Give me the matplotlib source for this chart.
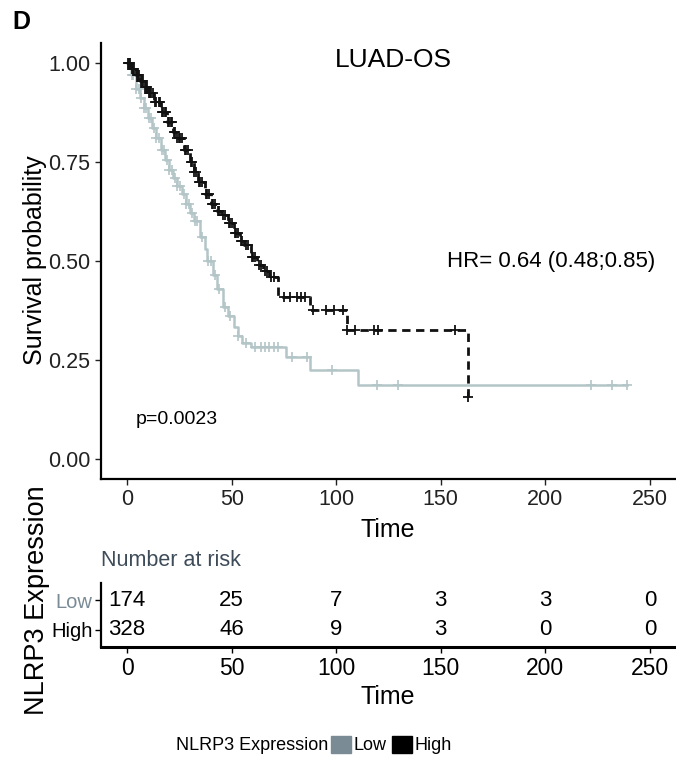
import numpy as np
import matplotlib.pyplot as plt
from matplotlib.patches import Patch

plt.rcParams['font.family'] = ['Liberation Sans', 'DejaVu Sans']
NARROW = ['Liberation Sans Narrow', 'Liberation Sans', 'DejaVu Sans']

##---------- data
# High expression (black, dashed) - step times / survival
high_t = [0, 2, 4, 6, 8, 10, 13, 16, 19, 22, 24, 27, 30, 32, 34, 37, 40, 43,
          45, 48, 51, 54, 56, 59, 62, 65, 68, 72, 86, 87.5, 105, 163]
high_s = [1.0, 0.985, 0.97, 0.955, 0.94, 0.925, 0.90, 0.875, 0.85, 0.825, 0.81,
          0.78, 0.75, 0.725, 0.70, 0.67, 0.645, 0.625, 0.615, 0.595, 0.57, 0.55,
          0.54, 0.51, 0.49, 0.475, 0.46, 0.41, 0.41, 0.376, 0.326, 0.157]
high_cens = [0.5, 1, 1.5, 2.5, 3, 3.5, 4.5, 5, 5.5, 6.5, 7, 7.5, 8.5, 9, 9.5,
             10.5, 11, 11.5, 12.5, 13.5, 14, 15, 15.5, 16.5, 17, 18, 18.5, 19.5,
             20, 21, 21.5, 22.5, 23, 24, 25, 25.5, 26, 27.5, 28, 29, 30.5, 31,
             32, 33, 34.5, 35, 36, 37.5, 38, 39, 40.5, 41, 42, 43.5, 44, 46,
             47, 48.5, 49, 50, 51.5, 52, 53, 54.5, 55, 57, 58, 59.5, 60, 61, 63,
             64, 66, 67, 69, 70, 75, 78, 81, 83, 85, 89, 95, 99, 103, 105, 109,
             118, 120, 157, 163]

# Low expression (light grey, solid)
low_t = [0, 2, 4, 6, 8, 10, 12, 14, 16, 18, 20, 22, 24, 26, 28, 30, 32, 35, 37,
         38, 41, 43, 46, 48, 51, 53, 55, 59, 76, 87.5, 110.5, 239]
low_s = [1.0, 0.97, 0.935, 0.91, 0.885, 0.86, 0.835, 0.81, 0.78, 0.755, 0.73,
         0.71, 0.69, 0.67, 0.645, 0.62, 0.60, 0.56, 0.53, 0.50, 0.465, 0.43,
         0.385, 0.36, 0.333, 0.31, 0.293, 0.283, 0.258, 0.225, 0.187, 0.187]
low_cens = [0.5, 1.5, 2.5, 3, 4, 5.5, 6.5, 8, 9, 10.5, 11.5, 13, 14, 15, 16.5,
            17.5, 19, 20, 21.5, 23, 24, 25.5, 27, 28, 29.5, 31, 32.5, 33.5, 36,
            38.5, 40, 42, 44, 47, 49, 53, 57, 61, 64, 66, 68, 70, 72, 79, 86,
            98, 119.5, 129.5, 222, 232, 239]

risk_times = [0, 50, 100, 150, 200, 250]
risk_low = [174, 25, 7, 3, 3, 0]
risk_high = [328, 46, 9, 3, 0, 0]

col_low = '#B3C5C7'
col_low_key = '#7A8B95'
col_high = '#111111'


def surv_at(t_list, s_list, times):
    idx = np.searchsorted(t_list, times, side='right') - 1
    return np.asarray(s_list)[idx]


W, H = 676, 758
fig = plt.figure(figsize=(W / 100, H / 100), dpi=100)

# main survival panel
ax = fig.add_axes([101 / W, 1 - 479 / H, 575 / W, 436 / H])
ax.step(low_t, low_s, where='post', color=col_low, lw=1.8)
ax.plot(low_cens, surv_at(low_t, low_s, low_cens), '+', color=col_low, ms=7, mew=1.2)
ax.step(high_t, high_s, where='post', color=col_high, lw=2, ls=(0, (3, 2)))
ax.plot(high_cens, surv_at(high_t, high_s, high_cens), '+', color=col_high, ms=7, mew=1.3)

ax.set_xlim(-12.5, 262.5)
ax.set_ylim(-0.05, 1.05)
ax.set_xticks(risk_times)
ax.set_yticks([0, 0.25, 0.5, 0.75, 1.0])
ax.set_yticklabels(['0.00', '0.25', '0.50', '0.75', '1.00'])
for s in ['top', 'right']:
    ax.spines[s].set_visible(False)
for s in ['left', 'bottom']:
    ax.spines[s].set_linewidth(1.6)
ax.tick_params(labelsize=15.5, length=4, width=1, colors='#222222')

ax.text(0.508, 0.962, 'LUAD-OS', transform=ax.transAxes, ha='center', va='center', fontsize=19)
ax.text(153, 0.50, 'HR= 0.64 (0.48;0.85)', ha='left', va='center', fontsize=16)
ax.text(4, 0.10, 'p=0.0023', ha='left', va='center', fontsize=14)

fig.text(12 / W, 1 - 22 / H, 'D', fontsize=18, fontweight='bold', va='center')
fig.text(35 / W, 1 - 260 / H, 'Survival probability', rotation=90, ha='center', va='center', fontsize=18)
fig.text(388 / W, 1 - 530 / H, 'Time', ha='center', va='center', fontsize=18)

# risk table
axt = fig.add_axes([101 / W, 1 - 647 / H, 575 / W, 64 / H])
axt.set_xlim(-12.5, 262.5)
axt.set_ylim(0.4, 2.6)
for t, n in zip(risk_times, risk_low):
    axt.text(t, 2, str(n), ha='center', va='center', fontsize=16, family=NARROW)
for t, n in zip(risk_times, risk_high):
    axt.text(t, 1, str(n), ha='center', va='center', fontsize=16, family=NARROW)
axt.set_xticks(risk_times)
axt.set_xticklabels([str(t) for t in risk_times], family=NARROW)
axt.set_yticks([1, 2])
axt.set_yticklabels(['High', 'Low'], family=NARROW)
axt.get_yticklabels()[1].set_color(col_low_key)
for s in ['top', 'right']:
    axt.spines[s].set_visible(False)
axt.spines['left'].set_linewidth(1.6)
axt.spines['bottom'].set_linewidth(2.2)
axt.tick_params(axis='x', labelsize=16.5, length=4, width=1)
axt.tick_params(axis='y', labelsize=14.5, length=4, width=1, pad=2)
axt.text(0, 1.35, 'Number at risk', transform=axt.transAxes, ha='left', va='center',
         fontsize=15.5, color='#3E4C5A', family=NARROW)

fig.text(388 / W, 1 - 697 / H, 'Time', ha='center', va='center', fontsize=18)
fig.text(37 / W, 1 - 600 / H, 'NLRP3 Expression', rotation=90, ha='center', va='center', fontsize=19.5)

# legend
fig.text(328 / W, 1 - 745 / H, 'NLRP3 Expression', ha='right', va='center', fontsize=13)
handles = [Patch(color=col_low_key), Patch(color='black')]
fig.legend(handles, ['Low', 'High'], loc='center left', bbox_to_anchor=(331 / W, 1 - 745 / H),
           ncol=2, frameon=False, fontsize=13, handlelength=1.1, handleheight=1.1,
           handletextpad=0.15, columnspacing=0.3, borderpad=0, borderaxespad=0)

fig.savefig('out.png', dpi=100)
